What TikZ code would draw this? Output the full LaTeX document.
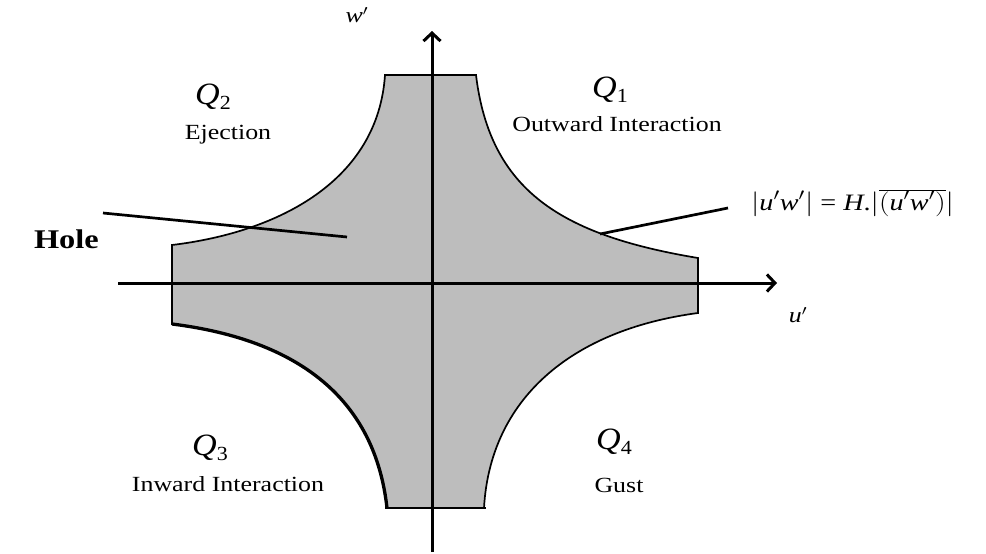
\documentclass[tikz,border=0pt]{standalone}
\usepackage{fontspec}
\setmainfont{Liberation Serif}
\usetikzlibrary{arrows.meta}
\newcommand{\hs}[1]{\scalebox{1.2}[1]{#1}}
\newcommand{\Qlab}[1]{\scalebox{1.1}[1]{\fontsize{31}{33}\selectfont\textit{Q}\raisebox{-0.35ex}{\fontsize{20}{22}\selectfont #1}}}
\tikzset{
  axis/.style={line width=3pt,-{Straight Barb[length=8pt,width=17pt,line width=3pt]}},
  region/.style={fill=black!26,draw=black,line width=1.7pt},
  lbl/.style={inner sep=0pt,font=\fontsize{21.6}{24}\selectfont},
  qlbl/.style={inner sep=0pt},
  pointer/.style={line width=2.7pt}
}
\begin{document}
\begin{tikzpicture}[x=1pt,y=-1pt]
\useasboundingbox (0,0) rectangle (986,554);
% hole region shape
\filldraw[region]
  (385,75) -- (476,75)
  .. controls (490,190) and (560,235) .. (698,258)
  -- (698,313)
  .. controls (570,330) and (490,400) .. (484,508)
  -- (387,508)
  .. controls (375,400) and (300,340) .. (172,324)
  -- (172,245)
  .. controls (280,232) and (378,180) .. (385,75) -- cycle;
\draw[line width=3.3pt] (387,508) .. controls (375,400) and (300,340) .. (172,324);
\draw[line width=2.7pt] (385,508) -- (486,508);
% axes
\coordinate (xs) at (118,283);
\coordinate (xe) at (777,283);
\coordinate (ys) at (432,552);
\coordinate (ye) at (432,31);
\draw[axis] (xs) -- (xe);
\draw[axis] (ys) -- (ye);
\node[lbl] (u) at (798,315) {\hs{\textit{u}$'$}};
\node[lbl] (w) at (357,15) {\hs{\textit{w}$'$}};
% quadrant labels
\node[qlbl] (q1) at (610,90) {\Qlab{1}};
\node[lbl] (q1t) at (617,124) {\hs{Outward Interaction}};
\node[qlbl] (q2) at (213,97) {\Qlab{2}};
\node[lbl] (q2t) at (228,135) {\hs{Ejection}};
\node[qlbl] (q3) at (210,448) {\Qlab{3}};
\node[lbl] (q3t) at (228,484) {\hs{Inward Interaction}};
\node[qlbl] (q4) at (614,442) {\Qlab{4}};
\node[lbl] (q4t) at (619,485) {\hs{Gust}};
% hole label
\node[lbl,font=\fontsize{27}{30}\selectfont\bfseries,anchor=east] (hole) at (99,239) {\hs{Hole}};
\coordinate (hp) at (347,237);
\coordinate (hs0) at (103,213);
\draw[pointer] (hs0) -- (hp);
% formula
\node[lbl,anchor=base west,font=\fontsize{23.5}{26}\selectfont] (form) at (751,210) {\hs{$|$\textit{u}$'$\textit{w}$'$$|$ = \textit{H}.$|$$\overline{(\mbox{\textit{u}$'$\textit{w}$'$})}$$|$}};
\coordinate (fp) at (600,234);
\coordinate (fs0) at (728,208);
\draw[pointer] (fp) -- (fs0);
\end{tikzpicture}
\end{document}
